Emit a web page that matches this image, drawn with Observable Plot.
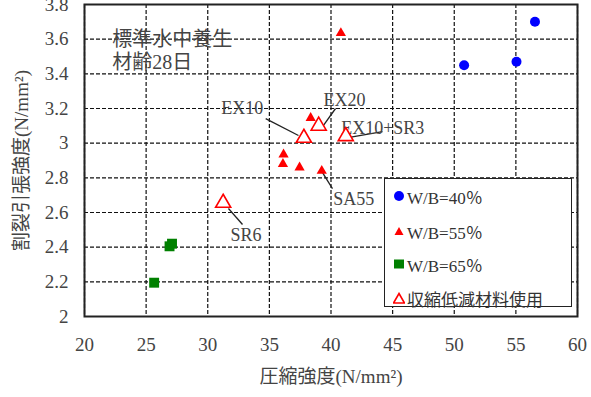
<!DOCTYPE html>
<html>
<head>
<meta charset="utf-8">
<script src="https://cdn.jsdelivr.net/npm/d3@7"></script>
<script src="https://cdn.jsdelivr.net/npm/@observablehq/plot@0.6"></script>
<style>
  body { margin: 0; background: #fff; }
  #chart { position: relative; width: 591px; height: 397px;
           font-family: "Liberation Serif", "Noto Sans CJK JP", serif; color: #333; }
  #chart svg text { font-family: "Liberation Serif", "Noto Sans CJK JP", serif; }
  .legend { position: absolute; left: 384px; top: 178px; width: 188px; height: 129px;
            border: 1.5px solid #222; background: #fff; box-sizing: border-box; }
  .legend .row { position: absolute; left: 8px; height: 20px; display: flex; align-items: center;
                 font-size: 17px; white-space: nowrap; }
  .legend svg { margin-right: 2px; }
</style>
</head>
<body>
<div id="chart"></div>
<script>
// Compressive strength (x) vs. splitting tensile strength (y), N/mm²
const wb40 = [
  {x: 50.8, y: 3.45},
  {x: 55.05, y: 3.47},
  {x: 56.55, y: 3.70}
];
const wb55 = [
  {x: 40.8, y: 3.635},
  {x: 38.35, y: 3.145},
  {x: 36.15, y: 2.935},
  {x: 36.1, y: 2.88},
  {x: 37.45, y: 2.86},
  {x: 39.25, y: 2.84}
];
const wb65 = [
  {x: 27.1, y: 2.42},
  {x: 26.9, y: 2.405},
  {x: 25.65, y: 2.195}
];
// mixes with shrinkage-reducing material
const reducedMixes = [
  {x: 37.8, y: 3.03, name: "EX10"},
  {x: 39.0, y: 3.10, name: "EX20"},
  {x: 41.2, y: 3.04, name: "EX10+SR3"},
  {x: 31.25, y: 2.655, name: "SR6"}
];

const xTicks = [20, 25, 30, 35, 40, 45, 50, 55, 60];
const yTicks = [2, 2.2, 2.4, 2.6, 2.8, 3, 3.2, 3.4, 3.6, 3.8];

const xTitle = "圧縮強度(N/mm²)";
const yTitle = "割裂引張強度(N/mm²)";
const noteLines = ["標準水中養生", "材齢28日"];
const legendLabels = ["W/B=40％", "W/B=55％", "W/B=65％", "収縮低減材料使用"];

// callout placement (data units): label position and leader line ends
const callouts = [
  {label: "EX10",     tx: 32.8,  ty: 3.20,  anchor: "middle", x1: 34.7,  y1: 3.142, x2: 37.36, y2: 3.044},
  {label: "EX20",     tx: 41.1,  ty: 3.246, anchor: "middle", x1: 40.37, y1: 3.20,  x2: 39.39, y2: 3.102},
  {label: "EX10+SR3", tx: 44.2,  ty: 3.084, anchor: "start",  x1: 44.18, y1: 3.067, x2: 41.5,  y2: 3.033},
  {label: "SA55",     tx: 41.85, ty: 2.675, anchor: "middle", x1: 39.3,  y1: 2.832, x2: 40.12, y2: 2.738},
  {label: "SR6",      tx: 33.1,  ty: 2.467, anchor: "middle", x1: 31.68, y1: 2.623, x2: 32.82, y2: 2.531}
];
const notePos = [{x: 22.25, y: 3.595}, {x: 22.25, y: 3.462}];

const font = "'Liberation Serif', 'Noto Sans CJK JP', serif";
const gridStyle = {stroke: "#111", strokeOpacity: 1, strokeWidth: 1.2, strokeDasharray: "4,2"};

const plot = Plot.plot({
  width: 591,
  height: 397,
  marginLeft: 84,
  marginRight: 14,
  marginTop: 4,
  marginBottom: 81,
  style: {fontFamily: font, fontSize: "18px", color: "#333", background: "transparent", overflow: "visible"},
  x: {domain: [20, 60]},
  y: {domain: [2, 3.8]},
  marks: [
    Plot.gridX(xTicks, gridStyle),
    Plot.gridY(yTicks, gridStyle),
    Plot.axisX(xTicks, {tickSize: 0, tickPadding: 21, fontSize: 19, fontFamily: font, fill: "#444",
      label: xTitle, labelAnchor: "center", labelOffset: 66, labelArrow: "none"}),
    Plot.axisY(yTicks, {tickSize: 0, tickPadding: 16, fontSize: 19, fontFamily: font, fill: "#444",
      tickFormat: d => String(+d.toFixed(1)),
      label: yTitle, labelAnchor: "center", labelOffset: 70, labelArrow: "none"}),
    Plot.frame({stroke: "#222", strokeWidth: 2}),
    Plot.link(callouts, {x1: "x1", y1: "y1", x2: "x2", y2: "y2", stroke: "#222", strokeWidth: 1.3}),
    Plot.text(callouts, {x: "tx", y: "ty", text: "label", textAnchor: d => d.anchor,
      fontSize: 18, fontFamily: font, fill: "#444"}),
    Plot.text(noteLines, {x: (d, i) => notePos[i].x, y: (d, i) => notePos[i].y, text: d => d,
      textAnchor: "start", fontSize: 20, fontFamily: font, fill: "#444"}),
    Plot.dot(wb65, {x: "x", y: "y", symbol: "square", r: 5.6, fill: "#008000"}),
    Plot.dot(wb55, {x: "x", y: "y", symbol: "triangle", r: 3.8, fill: "#ff0000"}),
    Plot.dot(reducedMixes, {x: "x", y: "y", symbol: "triangle", r: 5.6, fill: "#fff",
      stroke: "#ff0000", strokeWidth: 1.6}),
    Plot.dot(wb40, {x: "x", y: "y", symbol: "circle", r: 5, fill: "#0000ff"})
  ]
});

const chart = document.getElementById("chart");
chart.appendChild(plot);

// legend box inside the plot area
const symbols = [
  '<circle cx="6" cy="6" r="5" fill="#0000ff"/>',
  '<path d="M6 2 L10.5 10 L1.5 10 Z" fill="#ff0000"/>',
  '<rect x="1" y="1.5" width="10" height="9" fill="#008000"/>',
  '<path d="M6 1.5 L11.5 11 L0.5 11 Z" fill="#fff" stroke="#ff0000" stroke-width="1.6"/>'
];
const legend = document.createElement("div");
legend.className = "legend";
const rowTops = [7, 42, 75, 109];
legendLabels.forEach((label, i) => {
  const row = document.createElement("div");
  row.className = "row";
  row.style.top = rowTops[i] + "px";
  row.innerHTML = `<svg width="12" height="12">${symbols[i]}</svg><span>${label}</span>`;
  legend.appendChild(row);
});
chart.appendChild(legend);
</script>
</body>
</html>
